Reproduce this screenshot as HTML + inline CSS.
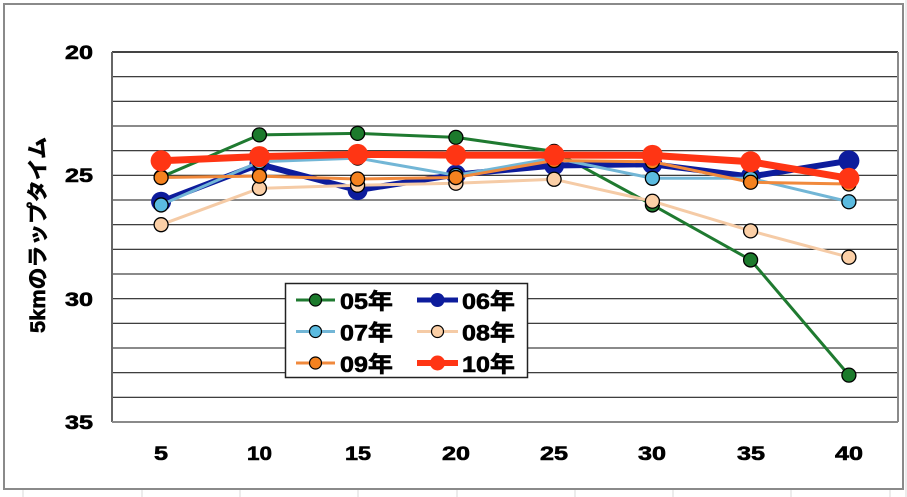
<!DOCTYPE html>
<html><head><meta charset="utf-8"><style>
html,body{margin:0;padding:0;background:#fff;}
svg{display:block;}
text{font-family:"Liberation Sans","Noto Sans CJK JP",sans-serif;font-weight:bold;fill:#000;stroke:#000;stroke-width:0.6;}
</style></head><body>
<svg width="907" height="497" viewBox="0 0 907 497" xmlns="http://www.w3.org/2000/svg">
<rect x="0" y="0" width="907" height="497" fill="#fff"/>
<!-- faint spreadsheet lines -->
<g stroke="#d8d8d8" stroke-width="1">
<line x1="906" y1="0" x2="906" y2="497"/>
<line x1="23" y1="490" x2="23" y2="497"/><line x1="142" y1="490" x2="142" y2="497"/><line x1="240" y1="490" x2="240" y2="497"/><line x1="358" y1="490" x2="358" y2="497"/><line x1="457" y1="490" x2="457" y2="497"/><line x1="575" y1="490" x2="575" y2="497"/><line x1="673" y1="490" x2="673" y2="497"/><line x1="791" y1="490" x2="791" y2="497"/><line x1="890" y1="490" x2="890" y2="497"/>
</g>
<!-- outer chart border -->
<rect x="4" y="4" width="899" height="485" fill="#fff" stroke="#8a8a8a" stroke-width="2"/>

<!-- gridlines -->
<g stroke="#222" stroke-width="1.2">
<line x1="112" y1="76.67" x2="898" y2="76.67"/>
<line x1="112" y1="101.33" x2="898" y2="101.33"/>
<line x1="112" y1="150.67" x2="898" y2="150.67"/>
<line x1="112" y1="175.33" x2="898" y2="175.33"/>
<line x1="112" y1="224.67" x2="898" y2="224.67"/>
<line x1="112" y1="249.33" x2="898" y2="249.33"/>
<line x1="112" y1="298.67" x2="898" y2="298.67"/>
<line x1="112" y1="323.33" x2="898" y2="323.33"/>
<line x1="112" y1="372.67" x2="898" y2="372.67"/>
<line x1="112" y1="397.33" x2="898" y2="397.33"/>
</g>
<g stroke="#8a8a8a" stroke-width="2">
<line x1="112" y1="126" x2="898" y2="126"/>
<line x1="112" y1="200" x2="898" y2="200"/>
<line x1="112" y1="274" x2="898" y2="274"/>
<line x1="112" y1="348" x2="898" y2="348"/>
</g>
<!-- plot border -->
<line x1="112" y1="52" x2="898" y2="52" stroke="#444" stroke-width="2"/>
<line x1="112" y1="52" x2="112" y2="422" stroke="#666" stroke-width="2"/>
<line x1="112" y1="422" x2="898" y2="422" stroke="#8a8a8a" stroke-width="2"/>
<line x1="898" y1="52" x2="898" y2="422" stroke="#8a8a8a" stroke-width="2"/>

<!-- y tick labels -->
<g font-size="19" text-anchor="end">
<text x="93" y="59" textLength="28" lengthAdjust="spacingAndGlyphs">20</text>
<text x="93" y="182" textLength="28" lengthAdjust="spacingAndGlyphs">25</text>
<text x="93" y="306" textLength="28" lengthAdjust="spacingAndGlyphs">30</text>
<text x="93" y="429" textLength="28" lengthAdjust="spacingAndGlyphs">35</text>
</g>
<!-- x tick labels -->
<g font-size="19">
<text x="154" y="460" textLength="14" lengthAdjust="spacingAndGlyphs">5</text>
<text x="247" y="460" textLength="25" lengthAdjust="spacingAndGlyphs">10</text>
<text x="345" y="460" textLength="26" lengthAdjust="spacingAndGlyphs">15</text>
<text x="442" y="460" textLength="28" lengthAdjust="spacingAndGlyphs">20</text>
<text x="540" y="460" textLength="28" lengthAdjust="spacingAndGlyphs">25</text>
<text x="638" y="460" textLength="28" lengthAdjust="spacingAndGlyphs">30</text>
<text x="737" y="460" textLength="28" lengthAdjust="spacingAndGlyphs">35</text>
<text x="835" y="460" textLength="28" lengthAdjust="spacingAndGlyphs">40</text>
</g>
<!-- y axis title -->
<text transform="translate(45,235) rotate(-90)" font-size="21" text-anchor="middle" textLength="196" lengthAdjust="spacingAndGlyphs">5kmのラップタイム</text>

<!-- series 05 -->
<polyline fill="none" stroke="#1f7a30" stroke-width="3" stroke-linejoin="round" points="161.1,177.06 259.4,134.88 357.6,133.4 455.9,137.35 554.1,151.41 652.4,204.93 750.6,259.94 848.9,375.14"/>
<g fill="#1c7a2c" stroke="#000" stroke-width="1.3">
<circle cx="161.1" cy="177.06" r="7"/><circle cx="259.4" cy="134.88" r="7"/><circle cx="357.6" cy="133.4" r="7"/><circle cx="455.9" cy="137.35" r="7"/><circle cx="554.1" cy="151.41" r="7"/><circle cx="652.4" cy="204.93" r="7"/><circle cx="750.6" cy="259.94" r="7"/><circle cx="848.9" cy="375.14" r="7"/>
</g>
<!-- series 06 -->
<polyline fill="none" stroke="#0d1c9c" stroke-width="6" stroke-linejoin="round" points="161.1,201.73 259.4,164.23 357.6,190.13 455.9,174.59 554.1,165.47 652.4,164.23 750.6,176.57 848.9,160.78"/>
<g fill="#0d1c9c">
<circle cx="161.1" cy="201.73" r="10"/><circle cx="259.4" cy="164.23" r="10"/><circle cx="357.6" cy="190.13" r="10"/><circle cx="455.9" cy="174.59" r="10"/><circle cx="554.1" cy="165.47" r="10"/><circle cx="652.4" cy="164.23" r="10"/><circle cx="750.6" cy="176.57" r="10"/><circle cx="848.9" cy="160.78" r="10.5"/>
</g>
<!-- series 07 -->
<polyline fill="none" stroke="#72b6d6" stroke-width="3" stroke-linejoin="round" points="161.1,204.93 259.4,161.77 357.6,158.07 455.9,175.33 554.1,158.07 652.4,178.29 750.6,178.29 848.9,201.73"/>
<g fill="#5bbbe0" stroke="#000" stroke-width="1.3">
<circle cx="161.1" cy="204.93" r="7"/><circle cx="259.4" cy="161.77" r="7"/><circle cx="357.6" cy="158.07" r="7"/><circle cx="455.9" cy="175.33" r="7"/><circle cx="554.1" cy="158.07" r="7"/><circle cx="652.4" cy="178.29" r="7"/><circle cx="750.6" cy="178.29" r="7"/><circle cx="848.9" cy="201.73" r="7"/>
</g>
<!-- series 08 -->
<polyline fill="none" stroke="#f5cba6" stroke-width="3" stroke-linejoin="round" points="161.1,224.67 259.4,188.41 357.6,185.2 455.9,183.23 554.1,179.28 652.4,201.24 750.6,230.84 848.9,257.23"/>
<g fill="#fbcfa6" stroke="#000" stroke-width="1.3">
<circle cx="161.1" cy="224.67" r="7"/><circle cx="259.4" cy="188.41" r="7"/><circle cx="357.6" cy="185.2" r="7"/><circle cx="455.9" cy="183.23" r="7"/><circle cx="554.1" cy="179.28" r="7"/><circle cx="652.4" cy="201.24" r="7"/><circle cx="750.6" cy="230.84" r="7"/><circle cx="848.9" cy="257.23" r="7"/>
</g>
<!-- series 09 -->
<polyline fill="none" stroke="#f0893c" stroke-width="3" stroke-linejoin="round" points="161.1,177.55 259.4,176.07 357.6,179.03 455.9,177.55 554.1,160.53 652.4,161.77 750.6,182.24 848.9,183.97"/>
<g fill="#f5821f" stroke="#000" stroke-width="1.3">
<circle cx="161.1" cy="177.55" r="7"/><circle cx="259.4" cy="176.07" r="7"/><circle cx="357.6" cy="179.03" r="7"/><circle cx="455.9" cy="177.55" r="7"/><circle cx="554.1" cy="160.53" r="7"/><circle cx="652.4" cy="161.77" r="7"/><circle cx="750.6" cy="182.24" r="7"/><circle cx="848.9" cy="183.97" r="7"/>
</g>
<!-- series 10 -->
<polyline fill="none" stroke="#ff3514" stroke-width="7" stroke-linejoin="round" points="161.1,160.78 259.4,156.59 357.6,154.37 455.9,155.11 554.1,155.11 652.4,155.35 750.6,161.77 848.9,178.29"/>
<g fill="#ff3514">
<circle cx="161.1" cy="160.78" r="10.5"/><circle cx="259.4" cy="156.59" r="10.5"/><circle cx="357.6" cy="154.37" r="10.5"/><circle cx="455.9" cy="155.11" r="10.5"/><circle cx="554.1" cy="155.11" r="10.5"/><circle cx="652.4" cy="155.35" r="10.5"/><circle cx="750.6" cy="161.77" r="10.5"/><circle cx="848.9" cy="178.29" r="10.5"/>
</g>

<!-- legend -->
<rect x="285.5" y="283.5" width="242" height="94" fill="#fff" stroke="#222" stroke-width="1.5"/>
<line x1="296" y1="300" x2="335" y2="300" stroke="#1f7a30" stroke-width="3"/>
<circle cx="315.5" cy="300" r="6" fill="#1c7a2c" stroke="#000" stroke-width="1.2"/>
<line x1="417" y1="300" x2="458" y2="300" stroke="#0d1c9c" stroke-width="5"/>
<circle cx="437.5" cy="300" r="7" fill="#0d1c9c"/>
<line x1="296" y1="331.5" x2="335" y2="331.5" stroke="#72b6d6" stroke-width="3"/>
<circle cx="315.5" cy="331.5" r="6" fill="#5bbbe0" stroke="#000" stroke-width="1.2"/>
<line x1="417" y1="331.5" x2="458" y2="331.5" stroke="#f5cba6" stroke-width="3"/>
<circle cx="437.5" cy="331.5" r="6" fill="#fbcfa6" stroke="#000" stroke-width="1.2"/>
<line x1="296" y1="363" x2="335" y2="363" stroke="#f0893c" stroke-width="3"/>
<circle cx="315.5" cy="363" r="6" fill="#f5821f" stroke="#000" stroke-width="1.2"/>
<line x1="417" y1="363" x2="458" y2="363" stroke="#ff3514" stroke-width="6"/>
<circle cx="437.5" cy="363" r="7.5" fill="#ff3514"/>
<g font-size="22">
<text x="340" y="309" textLength="53" lengthAdjust="spacingAndGlyphs">05年</text>
<text x="462" y="309" textLength="53" lengthAdjust="spacingAndGlyphs">06年</text>
<text x="340" y="340.5" textLength="53" lengthAdjust="spacingAndGlyphs">07年</text>
<text x="462" y="340.5" textLength="53" lengthAdjust="spacingAndGlyphs">08年</text>
<text x="340" y="372" textLength="53" lengthAdjust="spacingAndGlyphs">09年</text>
<text x="462" y="372" textLength="53" lengthAdjust="spacingAndGlyphs">10年</text>
</g>
</svg>
</body></html>
